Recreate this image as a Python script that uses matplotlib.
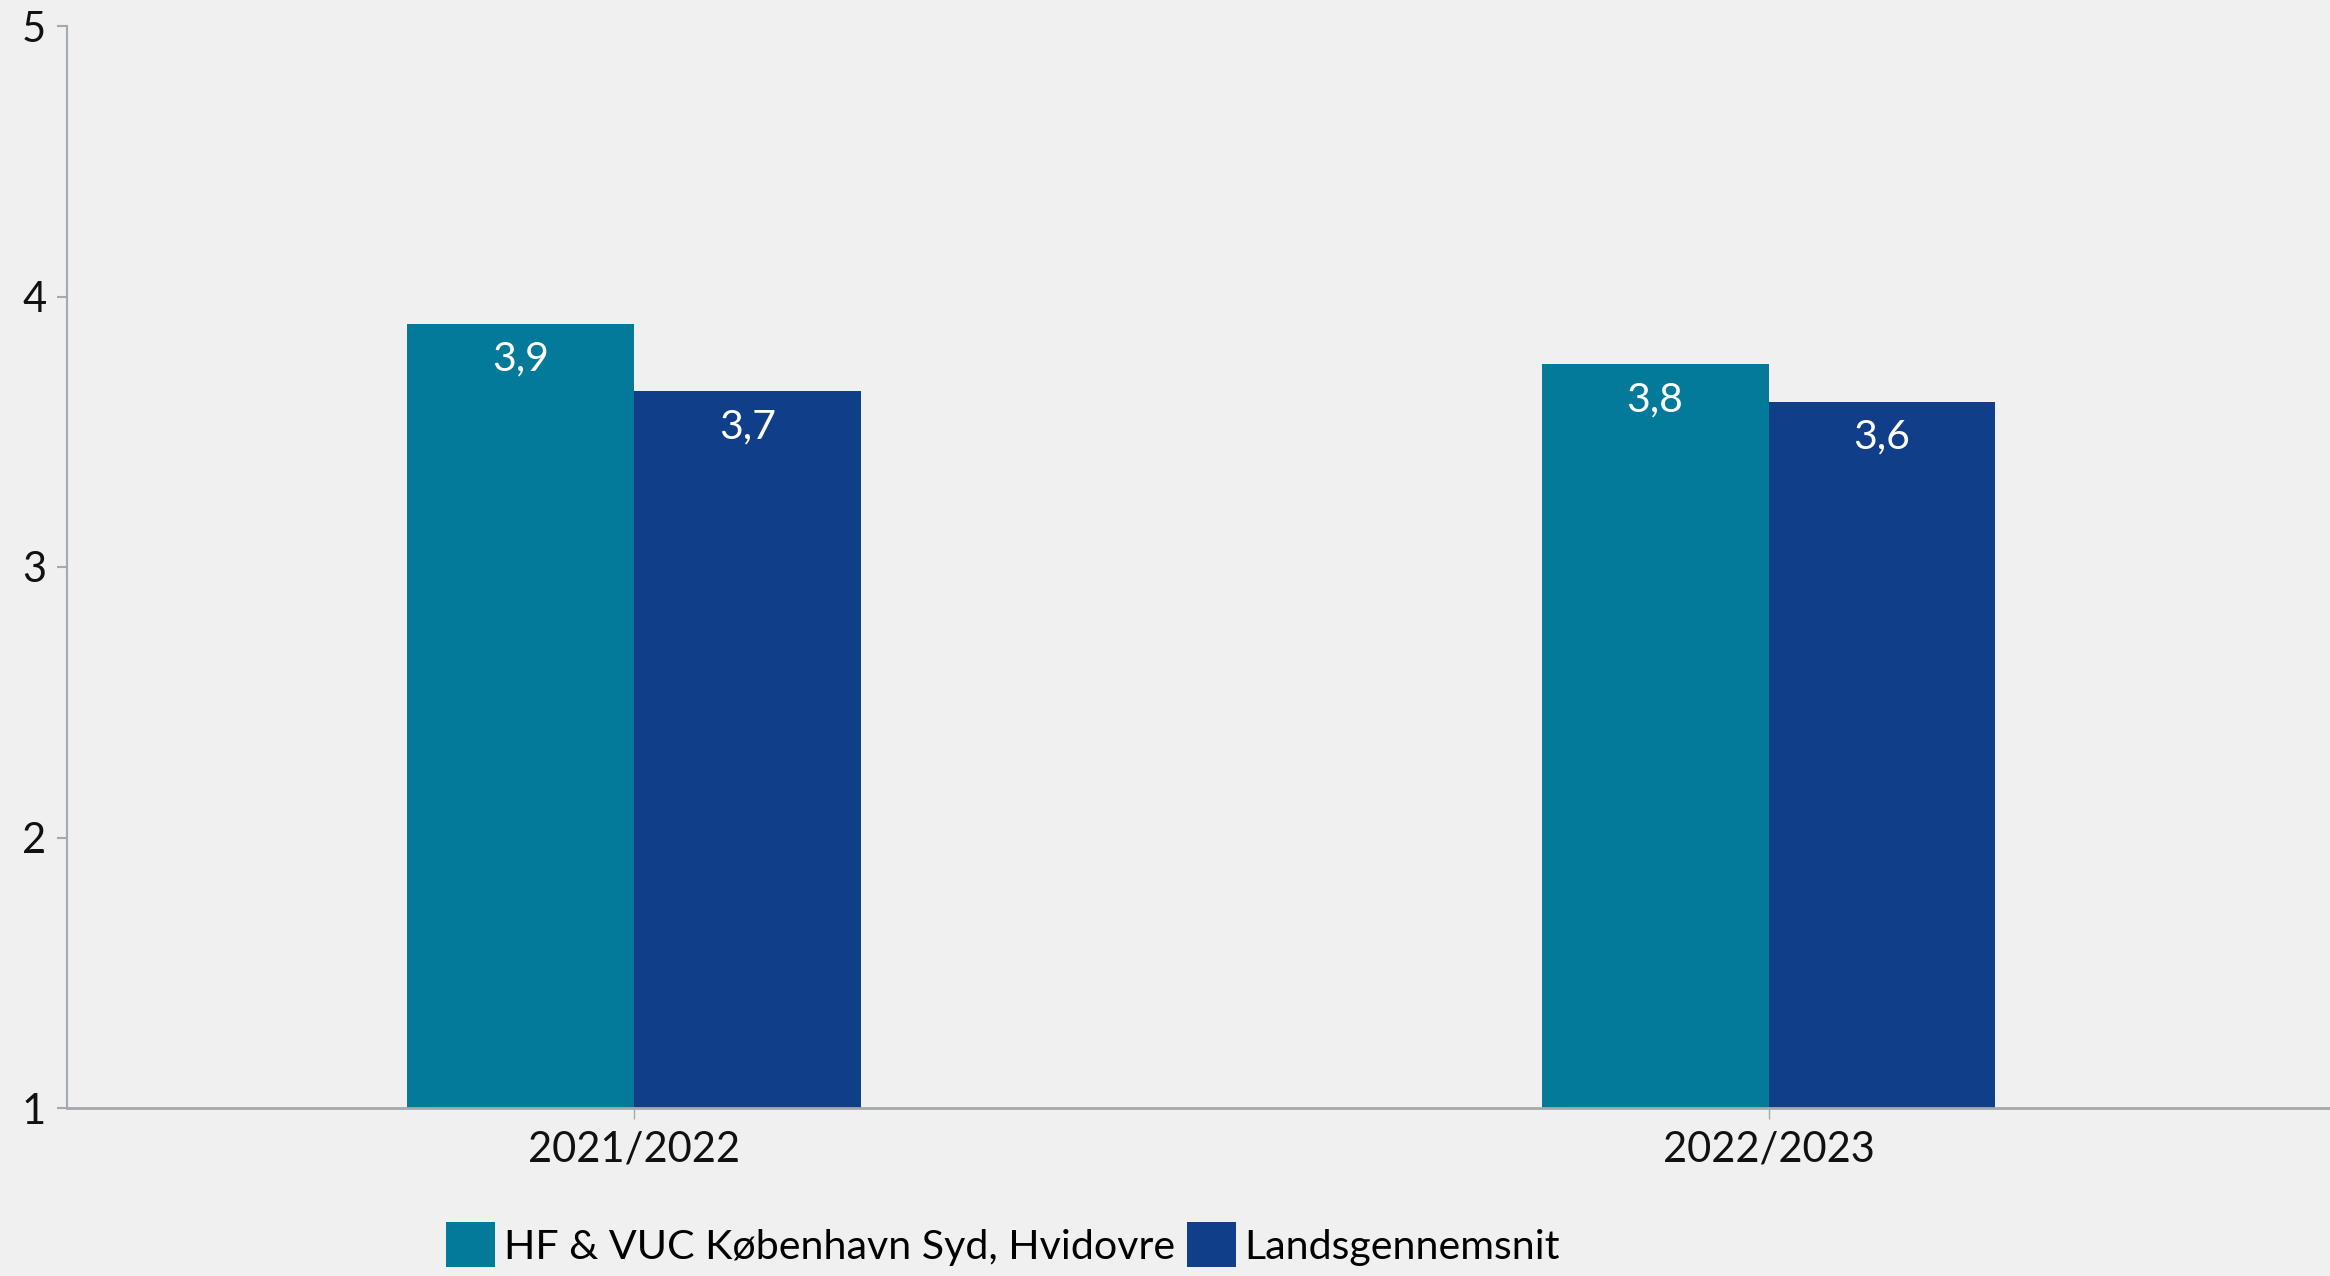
import matplotlib
matplotlib.use("Agg")
import matplotlib.pyplot as plt
import numpy as np

# data
years = ["2021/2022", "2022/2023"]
series_names = ["HF & VUC København Syd, Hvidovre", "Landsgennemsnit"]
school_values = [3.90, 3.75]
national_values = [3.65, 3.61]
school_labels = ["3,9", "3,8"]
national_labels = ["3,7", "3,6"]

BG = "#f0f0f0"
TEAL = "#037a99"
NAVY = "#113e88"
AXIS = "#a3a9b0"

plt.rcParams["font.family"] = ["Lato", "DejaVu Sans"]

fig = plt.figure(figsize=(23.3, 12.76), dpi=100, facecolor=BG)
ax = fig.add_axes([67 / 2330, 168 / 1276, 1 - 67 / 2330, (1108 - 26) / 1276])
ax.set_facecolor(BG)

x = np.arange(len(years))
width = 0.2
bars_a = ax.bar(x - width / 2, np.array(school_values) - 1, width, bottom=1, color=TEAL, label=series_names[0])
bars_b = ax.bar(x + width / 2, np.array(national_values) - 1, width, bottom=1, color=NAVY, label=series_names[1])

for bars, labels in [(bars_a, school_labels), (bars_b, national_labels)]:
    for bar, text in zip(bars, labels):
        ax.annotate(text, (bar.get_x() + bar.get_width() / 2, bar.get_y() + bar.get_height()),
                    xytext=(0, -25.5), textcoords="offset points", ha="center", va="center",
                    color="white", fontsize=29.5)

ax.set_xlim(-0.5, 1.495)
ax.set_ylim(1, 5)
ax.set_yticks([1, 2, 3, 4, 5])
ax.set_xticks(x, years)
ax.tick_params(axis="both", labelsize=30, colors=AXIS, labelcolor="#111111")
ax.tick_params(axis="x", length=8, width=1, pad=8)
ax.tick_params(axis="y", length=7, width=1.5, pad=8)

ax.spines[["top", "right"]].set_visible(False)
ax.spines["left"].set_color(AXIS)
ax.spines["left"].set_linewidth(1.5)
ax.spines["bottom"].set_color(AXIS)
ax.spines["bottom"].set_linewidth(2)

fig.legend(loc="center", bbox_to_anchor=(1003 / 2330, 0.0245), ncols=2, frameon=False,
           fontsize=29.6, handlelength=1.2, handleheight=1.3, handletextpad=0.2,
           columnspacing=0.3, borderaxespad=0, borderpad=0)

fig.savefig("out.png", dpi=100, facecolor=BG)
